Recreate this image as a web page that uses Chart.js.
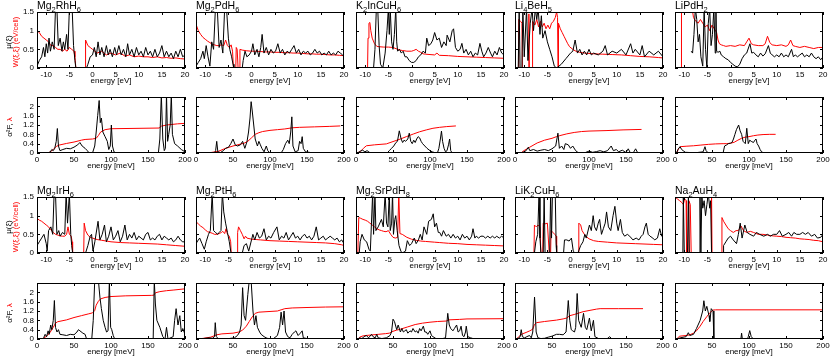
<!DOCTYPE html>
<html>
<head>
<meta charset="utf-8">
<script src="https://cdn.jsdelivr.net/npm/chart.js@4.4.0/dist/chart.umd.min.js"></script>
<style>
  body { margin: 0; background: #fff; }
  #fig { position: relative; width: 830px; height: 360px; overflow: hidden; }
  #fig canvas { position: absolute; }
</style>
</head>
<body>
<div id="fig"></div>
<script>
// compounds, top block uses the first five, bottom block the last five
const compounds = ['Mg2RhH6', 'Mg2PdH6', 'K2InCuH6', 'Li4BeH5', 'LiPdH2',
                   'Mg2IrH6', 'Mg2PtH6', 'Mg2SrPdH8', 'LiK2CuH6', 'Na2AuH4'];

// tick labels
const dosTicksX = [-10, -5, 0, 5, 10, 15, 20];
const dosTicksY = [0, 0.5, 1, 1.5];
const a2fTicksX = [0, 50, 100, 150, 200];
const a2fTicksY = [0, 0.4, 0.8, 1.2, 1.6, 2];
const dosXTitle = 'energy [eV]';
const a2fXTitle = 'energy [meV]';

// ---- Mg2RhH6 ----  [energy, value]
const rhMu = [[-12,0.05],[-11.5,0.2],[-11,0.3],[-10.6,0.55],[-10.3,0.3],[-10,0.65],[-9.7,0.4],[-9.4,0.8],[-9.1,0.45],[-8.7,0.7],[-8.3,0.5],[-8,1.6],[-7.7,1.6],[-7.4,0.6],[-7,0.8],[-6.6,0.45],[-6.3,0.7],[-6,0.5],[-5.6,0.9],[-5.3,0.5],[-5,1.6],[-4.7,1.6],[-4.4,1.6],[-4.1,0.6],[-3.8,0.2],[-3.6,0],[-1.3,0],[-1,0.1],[-0.5,0.3],[0,0.35],[0.4,0.55],[0.8,0.3],[1.2,0.7],[1.6,0.35],[2,0.55],[2.5,0.3],[3,0.6],[3.4,0.35],[3.8,0.5],[4.3,0.3],[4.8,0.55],[5.2,0.35],[5.7,0.6],[6.2,0.35],[6.7,0.5],[7.2,0.3],[7.6,0.65],[8,0.35],[8.5,0.5],[9,0.3],[9.5,0.55],[10,0.35],[10.5,0.45],[11,0.3],[11.5,0.55],[12,0.35],[12.5,0.45],[13,0.3],[13.5,0.5],[14,0.3],[14.5,0.4],[15,0.6],[15.5,0.3],[16,0.45],[16.5,0.3],[17,0.4],[17.5,0.25],[18,0.45],[18.5,0.3],[19,0.5],[19.5,0.3],[20,0.35]];
const rhW = [[-12,1.0],[-11.5,0.95],[-11,0.85],[-10.5,0.8],[-10,0.75],[-9.5,0.7],[-9,0.6],[-8.5,0.6],[-8,0.55],[-7.5,0.5],[-7,0.5],[-6.5,0.45],[-6,0.5],[-5.5,0.45],[-5,0.55],[-4.5,0.5],[-4,0.45],[-3.8,0.3],[-3.6,0],[-1.6,0],[-1.5,0.75],[-1,0.6],[-0.5,0.55],[0,0.5],[0.5,0.45],[1,0.4],[2,0.45],[3,0.35],[4,0.4],[5,0.35],[6,0.4],[7,0.32],[8,0.35],[9,0.3],[10,0.32],[11,0.3],[12,0.3],[13,0.28],[14,0.3],[15,0.27],[16,0.28],[17,0.26],[18,0.27],[19,0.25],[20,0.24]];
const rhA2F = [[0,0],[15,0],[18,0.05],[20,0.15],[22,0.1],[24,0.2],[26,0.5],[27.5,1.05],[29,0.3],[31,0.1],[35,0.15],[40,0.2],[45,0.18],[50,0.25],[55,0.35],[58,0.45],[61,0.3],[65,0.2],[68,0.1],[70,0.02],[75,0],[78,0.3],[80,0.9],[82,1.6],[84,2.25],[85.5,1.3],[87,1.5],[89,0.9],[92,0.7],[95,0.5],[97,0.15],[99,0.3],[100.5,1.2],[102,0.3],[104,0.05],[107,0],[164,0],[166,0.6],[168,2.5],[170,0.6],[172,0.1],[173.5,0.2],[175,2.5],[176.5,0.5],[178,0.8],[180,1.2],[181.5,2.5],[183,0.8],[186,0.4],[190,0.3],[195,0.15],[200,0.05]];
const rhLam = [[0,0],[15,0],[18,0.05],[22,0.15],[26,0.28],[30,0.34],[40,0.41],[50,0.47],[60,0.55],[65,0.58],[75,0.6],[80,0.63],[83,0.75],[86,0.9],[92,1.0],[100,1.04],[165,1.07],[168,1.15],[175,1.2],[190,1.25],[200,1.27]];

// ---- Mg2PdH6 ----
const pdMu = [[-12,0.05],[-11.5,0.15],[-11,0.25],[-10.5,0.45],[-10.2,0.25],[-9.8,0.6],[-9.4,0.3],[-9,0.05],[-8.6,0.7],[-8.2,0.5],[-7.8,1.6],[-7.4,1.6],[-7,0.55],[-6.6,0.75],[-6.2,0.4],[-5.8,1.6],[-5.4,1.6],[-5,0.8],[-4.7,0.5],[-4.3,0.3],[-4,0.1],[-3.8,0],[-2,0],[-1.8,0.2],[-1.4,0.45],[-1,0.3],[-0.5,0.35],[0,0.45],[0.3,0.65],[0.7,0.35],[1.2,0.5],[1.6,0.3],[2,0.55],[2.3,0.9],[2.7,0.4],[3.2,0.55],[3.7,0.35],[4.2,0.5],[4.7,0.4],[5.2,0.45],[5.7,0.65],[6.2,0.4],[6.7,0.5],[7.2,0.35],[7.7,0.45],[8.2,0.4],[8.7,0.5],[9.2,0.6],[9.7,0.4],[10.2,0.5],[10.7,0.35],[11.2,0.45],[11.7,0.4],[12.2,0.45],[12.7,0.35],[13.2,0.4],[13.7,0.5],[14.2,0.4],[14.7,0.45],[15.2,0.35],[15.7,0.4],[16.2,0.35],[16.7,0.45],[17.2,0.35],[17.7,0.4],[18.2,0.35],[18.7,0.45],[19.2,0.4],[19.7,0.35],[20,0.3]];
const pdW = [[-12,1.17],[-11.5,1.0],[-11,0.9],[-10.5,0.82],[-10,0.77],[-9.5,0.72],[-9,0.68],[-8.5,0.64],[-8,0.62],[-7.5,0.6],[-7,0.6],[-6.5,0.62],[-6,0.6],[-5.6,0.75],[-5.2,0.6],[-4.8,0.55],[-4.4,0.62],[-4.1,0.45],[-3.9,0],[-3.4,0],[-3.3,0.55],[-3.1,0.5],[-2.9,0],[-2.6,0],[-2.5,0.5],[-2,0.48],[-1,0.46],[0,0.45],[1,0.45],[2,0.44],[3,0.43],[4,0.43],[5,0.42],[6,0.42],[7,0.41],[8,0.41],[9,0.4],[10,0.4],[11,0.39],[12,0.38],[13,0.38],[14,0.37],[15,0.37],[16,0.36],[17,0.35],[18,0.35],[19,0.34],[20,0.33]];
const pdA2F = [[0,0],[25,0],[26.5,0.1],[28,0.5],[29.5,0.05],[33,0.02],[37,0.1],[40,0.2],[44,0.25],[47,0.4],[50,0.6],[53,0.35],[56,0.3],[60,0.35],[63,0.5],[66,0.2],[69,0.5],[71,0.9],[73,1.5],[74.5,2.2],[76,1.8],[78,1.2],[80,0.6],[83,0.3],[85,0.5],[87,0.35],[89,0.2],[92,0.05],[95,0.3],[97,0.1],[100,0],[115,0],[118,0.15],[121,0.4],[124,0.55],[126,0.4],[128,0.9],[129.5,1.55],[131,0.3],[134,0.05],[138,0.1],[140,0.5],[142,0.4],[143.5,0.7],[145,0.2],[148,0.05],[155,0.02],[160,0]];
const pdLam = [[0,0],[20,0.02],[30,0.07],[40,0.2],[50,0.3],[60,0.38],[65,0.42],[70,0.5],[75,0.65],[80,0.8],[85,0.87],[90,0.92],[100,0.97],[110,1.0],[120,1.03],[130,1.08],[140,1.1],[160,1.12],[180,1.14],[195,1.16]];

// ---- K2InCuH6 ----
const kinMu = [[-12,0],[-8.2,0],[-7.9,0.5],[-7.6,1.6],[-7.3,1.6],[-7,0.6],[-6.7,0.1],[-6.2,0],[-5.7,0.4],[-5.3,1.0],[-5.0,1.6],[-4.8,0.9],[-4.6,1.6],[-4.3,0.7],[-4,0.5],[-3.7,0.9],[-3.4,1.6],[-3.2,0.7],[-3,0.45],[-2.6,0.5],[-2.2,0.4],[-1.8,0.45],[-1.4,0.3],[-1,0.3],[-0.5,0.2],[0,0.15],[0.5,0.15],[1,0.2],[1.5,0.3],[2,0.35],[2.5,0.45],[3,0.4],[3.3,0.8],[3.7,0.6],[4.2,0.65],[4.6,0.75],[5,0.95],[5.5,0.75],[6,0.8],[6.5,0.55],[7,0.7],[7.5,0.6],[7.7,0.88],[8.3,0.7],[8.8,1.0],[9.1,1.05],[9.5,0.55],[10,0.45],[10.5,0.5],[10.9,0.66],[11.3,0.4],[11.8,0.5],[12.3,0.35],[12.8,0.45],[13.3,0.3],[13.8,0.4],[14.3,0.35],[14.8,0.66],[15.2,0.45],[15.6,0.3],[16.1,0.4],[16.6,0.55],[17.1,0.4],[17.5,0.3],[18,0.45],[18.5,0.35],[19,0.55],[19.5,0.4],[20,0.35]];
const kinW = [[-12,0],[-9.5,0],[-9.4,0.8],[-9.2,1.2],[-9,1.22],[-8.8,1.0],[-8.5,0.8],[-8,0.65],[-7.5,0.58],[-7,0.57],[-6,0.56],[-5,0.56],[-4,0.55],[-3,0.5],[-2.5,0.48],[-2,0.47],[-1,0.45],[0,0.45],[0.5,0.47],[1,0.5],[1.5,0.45],[2,0.42],[2.5,0.38],[3,0.37],[4,0.36],[5,0.35],[5.5,0.4],[6,0.34],[8,0.33],[10,0.31],[12,0.3],[14,0.29],[16,0.28],[18,0.27],[20,0.26]];
const kinA2F = [[0,0],[3,0.02],[6,0.08],[9,0.12],[12,0.05],[15,0.1],[18,0.03],[22,0],[42,0],[45,0.1],[48,0.2],[51,0.3],[54,0.45],[56,0.5],[58.5,0.95],[61,0.6],[63,0.45],[65,0.55],[67,0.5],[70,0.6],[72,0.85],[74,0.5],[76,0.4],[78,0.55],[80,0.45],[82,0.6],[84,0.7],[86,0.65],[88,0.5],[90,0.4],[93,0.3],[96,0.2],[100,0.1],[103,0.05],[106,0.02],[110,0],[112,0.2],[114,0.6],[115.5,0.94],[117,0.5],[119,0.2],[121,0.05],[123,0.1],[125,0.35],[126.5,0.6],[128,0.1],[130,0]];
const kinLam = [[0,0],[5.4,0.05],[10,0.2],[14,0.31],[25,0.35],[41,0.39],[50,0.49],[60,0.6],[68,0.7],[78,0.82],[86,0.91],[95,0.99],[104,1.06],[113,1.1],[122,1.13],[135,1.16]];

// ---- Li4BeH5 ----
const li4Mu = [[-12,0],[-11.3,0],[-11.1,1.6],[-10.9,0],[-10.5,0],[-10.3,1.6],[-10,0.3],[-9.5,1.6],[-9.2,0.2],[-8.7,1.2],[-8.3,1.6],[-8,1.0],[-7.6,1.6],[-7.3,1.3],[-7,1.6],[-6.6,0.9],[-6.3,1.4],[-6,0.8],[-5.5,1.0],[-5,0.7],[-4.5,0.5],[-4,0.3],[-3.5,0.05],[-3,0],[-2,0.1],[-1,0.25],[0,0.4],[0.5,0.45],[1,0.75],[1.5,0.4],[2,0.5],[2.5,0.35],[3,0.45],[3.5,0.35],[4,0.5],[4.5,0.35],[5,0.4],[6,0.35],[7,0.45],[7.5,0.6],[8,0.35],[9,0.45],[10,0.4],[11,0.5],[12,0.35],[13,0.65],[13.5,0.4],[14,0.5],[15,0.35],[15.5,0.6],[16,0.3],[17,0.45],[18,0.35],[19,0.45],[20,0.3]];
const li4W = [[-12,0],[-11.3,0],[-11.2,1.3],[-10.8,1.25],[-10.5,1.2],[-10.4,0],[-9.1,0],[-9,1.45],[-8.9,0],[-8.3,0],[-8.2,1.25],[-7.7,1.15],[-7.3,1.3],[-6.9,1.1],[-6.5,1.25],[-6.1,1.1],[-5.7,1.2],[-5.3,1.05],[-4.9,1.15],[-4.5,1.05],[-4.1,1.2],[-3.7,1.25],[-3.3,1.35],[-3,1.5],[-2.8,1.35],[-2.7,0],[-2.6,1.2],[-2.2,1.05],[-1.8,0.95],[-1.4,0.85],[-1,0.75],[-0.6,0.65],[-0.2,0.57],[0.5,0.5],[1,0.46],[2,0.42],[3,0.4],[5,0.38],[7,0.37],[9,0.36],[11,0.35],[13,0.33],[15,0.31],[17,0.3],[19,0.28],[20,0.27]];
const li4A2F = [[8,0],[12,0.05],[15,0.1],[18,0.25],[20,0.1],[25,0.15],[30,0.08],[35,0.12],[40,0.15],[45,0.1],[50,0.18],[55,0.3],[58,0.85],[60,0.2],[63,0.3],[66,0.15],[68,0.4],[72,0.35],[75,0.2],[78,0.3],[82,0.1],[86,0],[95,0.02],[100,0.08],[105,0.03],[110,0.06],[115,0.1],[120,0.05],[125,0.1],[130,0.3],[133,0.1],[137,0.15],[140,0.05],[145,0.12],[150,0.02],[153,0.18],[156,0],[160,0.02],[163,0.18],[166,0]];
const li4Lam = [[8,0],[12,0.1],[20,0.25],[30,0.43],[40,0.55],[50,0.63],[56,0.7],[60,0.74],[70,0.82],[80,0.88],[90,0.92],[100,0.94],[123,0.96],[146,0.99],[171,1.01]];

// ---- LiPdH2 ----
const lipdMu = [[-8.5,0.45],[-8.2,0.4],[-7.9,0.9],[-7.6,1.6],[-7.3,1.3],[-7,0.7],[-6.7,0.9],[-6.4,0.3],[-6,0.05],[-5.7,1.6],[-5.4,0.5],[-5.1,0],[-4.8,1.2],[-4.5,1.6],[-4.2,0.6],[-3.9,0.9],[-3.6,1.6],[-3.3,0.4],[-3.15,1.6],[-3.0,0.45],[-2.7,0.42],[-2.3,0.45],[-2,0.35],[-1.5,0.3],[-1,0.25],[-0.5,0.22],[0,0.15],[0.5,0.1],[1,0.05],[1.5,0.03],[2,0.1],[2.5,0.25],[3,0.35],[3.5,0.4],[4.2,0.65],[4.6,0.4],[5,0.42],[5.5,0.35],[6,0.3],[6.5,0.4],[7,0.32],[7.5,0.38],[8.2,0.6],[8.6,0.4],[9,0.35],[9.5,0.3],[10,0.35],[10.5,0.3],[11,0.4],[11.5,0.3],[12,0.35],[12.5,0.3],[13.2,0.5],[13.6,0.3],[14,0.35],[14.5,0.3],[15,0.35],[15.5,0.4],[16,0.3],[16.5,0.35],[17,0.3],[17.5,0.4],[18,0.3],[18.5,0.25],[19,0.3],[19.5,0.22],[20,0.3]];
const lipdW = [[-12,0],[-10.7,0],[-10.6,1.6],[-8.3,1.6],[-8,1.35],[-7.5,1.25],[-7,1.2],[-6.5,1.3],[-6,1.2],[-5.5,1.1],[-5,1.15],[-4.5,1.0],[-4,1.15],[-3.5,1.05],[-3,0.95],[-2.7,0.75],[-2.4,0.65],[-2,0.62],[-1.5,0.6],[-1,0.58],[0,0.6],[1,0.58],[2,0.62],[3,0.6],[3.5,0.7],[4,0.8],[4.5,0.65],[5,0.62],[6,0.6],[7,0.6],[7.5,0.65],[8,0.85],[8.5,0.68],[9,0.62],[10,0.6],[11,0.62],[12,0.58],[12.5,0.62],[13,0.75],[13.5,0.6],[14,0.58],[15,0.55],[16,0.58],[17,0.55],[18,0.52],[19,0.55],[20,0.55]];
const lipdA2F = [[0,0],[2,0],[4,0.15],[6.8,0.27],[9,0.15],[11,0.1],[14,0.03],[20,0.02],[30,0.02],[38,0.05],[40.5,0.27],[42,0.1],[45,0],[65,0],[67,0.3],[70,0.35],[72,0.4],[75,0.42],[77,0.45],[79,0.6],[81,0.8],[83,1.0],[86,1.2],[88,0.95],[90,0.8],[92,0.5],[95,0.4],[97,1.06],[99,0.4],[101,0.55],[103,0.5],[106,0.45],[108,0.55],[109.5,0.6],[111,0.4],[113,0.3],[115,0.15],[117,0.05],[120,0]];
const lipdLam = [[0,0],[2.3,0],[5,0.2],[7,0.27],[15,0.29],[25,0.31],[35,0.34],[45,0.37],[55,0.39],[65,0.4],[70,0.4],[75,0.42],[80,0.46],[85,0.55],[90,0.63],[95,0.68],[100,0.7],[106,0.74],[112,0.77],[119,0.79],[128,0.8],[136,0.8]];

// ---- Mg2IrH6 ----
const irMu = [[-12,0.2],[-11.5,0.3],[-11,0.4],[-10.5,0.5],[-10,0.25],[-9.8,0.05],[-9.5,0.6],[-9,0.7],[-8.6,0.5],[-8.3,1.6],[-8,1.6],[-7.7,0.5],[-7.3,0.6],[-7,0.45],[-6.5,0.55],[-6,0.5],[-5.7,1.6],[-5.4,0.8],[-5,1.6],[-4.7,0.5],[-4.5,0.2],[-4.3,0],[-1.5,0],[-1,0.2],[-0.5,0.45],[-0.2,0.5],[0.1,0.05],[0.5,0.3],[1.2,0.85],[1.6,0.35],[2.1,0.5],[2.6,0.75],[3,0.3],[3.5,0.45],[4,0.7],[4.5,0.35],[5,0.45],[5.5,0.6],[6,0.3],[6.5,0.45],[7,0.75],[7.5,0.35],[8,0.5],[8.5,0.4],[9,0.55],[9.5,0.35],[10,0.45],[10.5,0.4],[11,0.35],[11.5,0.5],[12,0.55],[12.5,0.35],[13,0.4],[13.5,0.35],[14,0.45],[14.5,0.5],[15,0.35],[15.5,0.45],[16,0.4],[16.5,0.35],[17,0.4],[17.5,0.3],[18,0.35],[18.5,0.45],[19,0.35],[19.5,0.3],[20,0.3]];
const irW = [[-12,0.93],[-11.5,0.88],[-11,0.85],[-10.5,0.8],[-10,0.75],[-9.5,0.7],[-9,0.62],[-8.5,0.55],[-8,0.5],[-7.5,0.48],[-7,0.46],[-6.5,0.45],[-6,0.45],[-5.6,0.5],[-5.3,0.7],[-5,0.5],[-4.6,0.45],[-4.4,0.3],[-4.3,0],[-1.9,0],[-1.8,0.8],[-1.5,0.6],[-1,0.48],[-0.5,0.42],[0,0.4],[1,0.36],[2,0.34],[3,0.32],[4,0.3],[6,0.28],[8,0.27],[10,0.26],[12,0.25],[14,0.24],[16,0.22],[18,0.2],[20,0.18]];
const irA2F = [[0,0],[8,0],[9,0.05],[11,0.2],[13,0.1],[15,0.35],[16.5,0.2],[18.5,0.6],[20,0.4],[22,0.8],[23.5,1.65],[25,0.5],[27,0.3],[29,0.4],[31,0.2],[35,0.18],[40,0.15],[45,0.2],[50,0.18],[54,0.3],[56,0.4],[58,0.35],[62,0.25],[65,0.2],[67,0],[74,0],[76,0.8],[78,2.5],[83,2.5],[85,1.8],[87,1.3],[89.5,0.8],[92,0.5],[94,0.3],[96,0.35],[97.8,2.5],[99.5,0.5],[101,0.4],[103,0.15],[105,0],[157,0],[158.5,2.5],[160,1.5],[162,0.8],[166,0.5],[170,0.1],[173,0],[175,0.5],[177,0],[184,0.1],[186,0.8],[188,1.3],[190.5,0.6],[193,1.0],[195,0.3],[197,0.45],[200,0.2]];
const irLam = [[0,0],[5,0],[9,0.03],[14,0.15],[18,0.3],[22,0.5],[25,0.68],[28,0.74],[40,0.82],[50,0.92],[60,1.0],[70,1.08],[75,1.12],[78,1.22],[80,1.45],[83,1.62],[86,1.72],[92,1.78],[100,1.82],[120,1.85],[155,1.87],[158,1.88],[160,1.98],[166,2.03],[175,2.07],[185,2.1],[200,2.15]];

// ---- Mg2PtH6 ----
const ptMu = [[-12,0.25],[-11.5,0.35],[-11.2,0.4],[-10.7,0.25],[-10.2,0.1],[-9.8,0.3],[-9.3,0.5],[-8.9,0.6],[-8.5,1.6],[-8.2,0.6],[-7.8,0.55],[-7.3,0.5],[-7,0.55],[-6.6,0.6],[-6.3,1.6],[-6,1.1],[-5.6,0.8],[-5.2,0.55],[-4.8,0.3],[-4.5,0.05],[-4.4,0],[-2,0],[-1.6,0.2],[-1.1,0.25],[-0.6,0.05],[0,0.35],[0.3,0.5],[0.7,0.35],[1.2,0.55],[1.7,0.4],[2.2,0.45],[2.7,0.65],[3.2,0.35],[3.7,0.45],[4.2,0.4],[4.8,0.55],[5.5,0.7],[6,0.35],[6.5,0.45],[7,0.4],[7.5,0.55],[8,0.35],[8.5,0.45],[9,0.55],[9.5,0.4],[10,0.45],[10.5,0.35],[11,0.45],[11.5,0.5],[12,0.4],[12.5,0.45],[13,0.35],[13.5,0.45],[14,0.7],[14.5,0.35],[15,0.4],[15.5,0.45],[16,0.35],[16.5,0.4],[17,0.45],[17.5,0.4],[18,0.35],[18.5,0.4],[19,0.3],[19.5,0.35],[20,0.25]];
const ptW = [[-12,0.84],[-11.5,0.78],[-11,0.72],[-10.5,0.68],[-10,0.62],[-9.5,0.57],[-9,0.55],[-8.5,0.53],[-8,0.5],[-7.5,0.5],[-7,0.52],[-6.5,0.55],[-6.2,0.58],[-5.8,0.52],[-5.5,0.65],[-5.2,0.5],[-4.8,0.45],[-4.5,0.3],[-4.4,0],[-3.1,0],[-3,0.55],[-2.8,0.7],[-2.4,0.6],[-2,0.5],[-1.6,0.38],[-1.3,0.45],[-1,0.4],[0,0.37],[1,0.36],[2,0.35],[4,0.33],[6,0.32],[8,0.31],[10,0.3],[12,0.29],[14,0.28],[16,0.27],[18,0.25],[19.5,0.22],[20,0.2]];
const ptA2F = [[0,0],[8,0],[10,0.02],[18,0.05],[22,0.03],[25,0.1],[26,0.7],[27.5,0.1],[30,0.02],[40,0],[52,0.05],[56,0.15],[59,0.3],[61,0.6],[63,2.2],[65,1.0],[67,0.8],[70,1.9],[72,2.5],[74.5,2.5],[77,1.2],[79,0.6],[81,1.0],[83,0.5],[86,0.3],[88,0.2],[92,0.1],[96,0.03],[104,0],[110,0.15],[113,0.5],[115,1.15],[117,0.6],[119,1.2],[121,0.3],[124,0.1],[127,0.05],[130,0.2],[133,0.3],[135,0.35],[138,0.15],[141,0.25],[143.5,0.35],[145,0.05],[150,0.02],[156,0.02],[160,0]];
const ptLam = [[4,0],[10,0.03],[20,0.08],[28,0.18],[35,0.22],[50,0.25],[58,0.3],[63,0.38],[68,0.55],[72,0.75],[76,0.95],[80,1.1],[85,1.15],[100,1.18],[110,1.2],[115,1.25],[120,1.3],[130,1.33],[150,1.35],[175,1.37],[200,1.38]];

// ---- Mg2SrPdH8 ----
const srMu = [[-12,0],[-11.3,0],[-11.1,0.3],[-10.7,0.5],[-10.2,0.35],[-9.7,0.3],[-9.2,0.1],[-8.9,0.05],[-8.4,1.6],[-8.2,0.5],[-7.9,1.6],[-7.7,0.6],[-7.2,0.7],[-6.5,0.9],[-6.1,0.7],[-5.7,1.6],[-5.4,0.8],[-5.1,0.7],[-4.8,1.6],[-4.6,0.6],[-4.3,0.8],[-4.1,1.6],[-3.9,0.5],[-3.6,0.9],[-3.4,1.0],[-3.1,0.6],[-2.7,0.2],[-2.3,0.05],[-2,0],[-1.3,0.05],[-0.9,0.33],[-0.4,0.2],[0,0.25],[0.6,0.4],[1,0.25],[1.5,0.35],[1.9,0.5],[2.3,0.35],[2.7,0.7],[3.3,0.5],[3.7,0.85],[4.3,0.9],[4.7,1.05],[5,0.7],[5.4,0.8],[5.8,0.55],[6.1,0.55],[6.5,0.45],[6.9,0.6],[7.5,0.45],[8,0.5],[8.5,0.4],[9,0.5],[9.5,0.4],[10,0.45],[10.5,0.35],[11,0.5],[11.5,0.4],[12,0.45],[12.5,0.35],[13,0.45],[13.3,0.65],[13.7,0.4],[14,0.45],[14.5,0.4],[15,0.45],[15.5,0.45],[16,0.4],[16.5,0.45],[17,0.4],[17.5,0.45],[18,0.4],[18.4,0.45],[19,0.4],[19.5,0.45],[20,0.4]];
const srW = [[-12,0],[-11.6,0],[-11.4,0.95],[-11,0.93],[-10.5,0.9],[-10,0.88],[-9.5,0.85],[-9,0.8],[-8.5,0.75],[-8,0.7],[-7.5,0.65],[-7,0.62],[-6.5,0.6],[-6,0.58],[-5.5,0.57],[-5,0.6],[-4.5,0.5],[-4,0.42],[-3.5,0.4],[-3,0.42],[-2.75,1.6],[-2.5,0.52],[-2,0.5],[-1,0.42],[0,0.37],[1,0.34],[2,0.32],[3,0.31],[4,0.3],[5,0.29],[6,0.28],[7,0.27],[8,0.26],[10,0.25],[12,0.23],[14,0.22],[16,0.21],[18,0.2],[20,0.19]];
const srA2F = [[0,0],[3,0],[5,0.05],[8,0.02],[11,0.1],[14,0.15],[17,0.05],[21,0.2],[23,0.1],[26,0.05],[28,0.2],[30,0.05],[35,0.02],[41,0.05],[46,0.15],[48,0.3],[50,0.85],[52,0.75],[55,0.4],[57,0.6],[60,0.3],[62,0.45],[64,0.3],[66,0.35],[68,0.4],[70,0.25],[73,0.35],[75,0.3],[77,0.45],[80,0.3],[82,0.35],[84,0.25],[86,0.45],[88,0.35],[91,0.55],[93,0.3],[95,0.3],[97,0.2],[100,0.35],[102,0.15],[104,0.1],[108,0.02],[115,0],[121,0.05],[124,1.1],[126,0.6],[128,0.45],[131,0.35],[133,0.45],[136,0.6],[138,0.3],[140,0.35],[142,0.55],[144,0.15],[146,0.1],[148,0.3],[149,0.55],[151,0.1],[155,0.05],[158,0.02],[165,0]];
const srLam = [[0,0],[3,0],[5,0.08],[10,0.14],[20,0.17],[30,0.2],[40,0.23],[45,0.25],[50,0.33],[55,0.38],[60,0.42],[70,0.52],[80,0.62],[90,0.68],[100,0.72],[110,0.75],[122,0.77],[125,0.82],[140,0.84],[150,0.86],[200,0.87]];

// ---- LiK2CuH6 ----
const likMu = [[-12,0],[-7.8,0],[-7.5,0.3],[-7.1,0.5],[-6.8,1.6],[-6.6,0.4],[-6.4,0],[-5.9,0],[-5.7,1.6],[-5.5,0],[-4.5,0],[-4.3,1.6],[-4.1,0.4],[-3.9,1.6],[-3.6,1.6],[-3.3,1.6],[-3.1,0.2],[-3,0],[-1.5,0],[-1.3,0.35],[-0.8,0.35],[-0.3,0.32],[0.2,0.4],[0.6,0.05],[1,0],[1.6,0],[2.2,0.2],[2.7,0.3],[3.1,0.5],[3.4,0.4],[4.1,0.75],[4.5,0.6],[4.9,1.0],[5.2,0.7],[5.6,0.6],[6,0.8],[6.3,0.9],[6.7,0.5],[7.1,0.65],[7.5,0.8],[7.8,1.1],[8.2,0.7],[8.7,0.6],[9.2,1.0],[9.6,1.25],[10,0.8],[10.3,0.6],[10.8,0.9],[11.2,0.55],[11.7,0.45],[12.3,0.5],[12.8,0.45],[13.5,0.35],[14.2,0.4],[14.8,0.35],[15.3,0.45],[15.7,0.5],[16.1,0.7],[16.4,0.8],[16.8,0.5],[17.2,0.45],[17.8,0.4],[18.2,0.35],[18.8,0.4],[19.3,0.65],[19.7,0.45],[20,0.5]];
const likW = [[-12,0],[-7.9,0],[-7.8,0.75],[-7.4,0.7],[-7,0.75],[-6.6,0.7],[-6.4,0],[-6,0],[-5.9,0.8],[-5.5,0.78],[-5,0.8],[-4.6,0],[-4.3,0],[-4.2,0.6],[-3.8,0.55],[-3.4,0.5],[-3.1,0.45],[-3,0],[1.7,0],[1.8,0.8],[2.2,0.75],[2.5,0.6],[3,0.5],[3.5,0.43],[4,0.38],[5,0.33],[6,0.31],[8,0.29],[10,0.27],[14,0.25],[18,0.23],[20,0.22]];
const likA2F = [[0,0],[4,0.02],[7,0.1],[8.4,0.4],[10,0.1],[13,0.05],[16,0.1],[19.6,0.15],[22,0.05],[24,0.3],[26.4,1.8],[28.6,0.3],[31,0.05],[35,0.02],[40,0.03],[45,0.08],[50,0.12],[56,0.2],[60,0.2],[65,0.18],[69,0.3],[72,1.65],[74,0.8],[76,0.4],[78,0.35],[80.4,0.3],[82,0.5],[84,1.95],[86,0.8],[89.5,0.5],[92.6,1.1],[95,0.5],[97,0.4],[100.6,0.9],[103,0.35],[106,0.8],[108,0.1],[114,0],[124,0],[128,0.1],[131,0],[140,0]];
const likLam = [[0,0],[2,0],[5,0.1],[10,0.22],[15,0.28],[20,0.35],[24,0.42],[26,0.6],[29,0.7],[40,0.75],[56,0.81],[65,0.86],[70,0.9],[74,1.0],[80,1.05],[92,1.17],[100,1.22],[110,1.28],[115,1.3],[140,1.3],[173,1.3]];

// ---- Na2AuH4 ----
const naMu = [[-12,0],[-10.3,0],[-10.2,1.6],[-10,0],[-9.3,0],[-9.1,1.6],[-8.9,0],[-6.8,0],[-6.6,1.6],[-6.4,0],[-6.2,1.6],[-6,1.2],[-5.7,1.4],[-5.4,1.0],[-5.1,1.3],[-4.8,1.6],[-4.5,1.2],[-4.3,1.4],[-4.1,0],[-1.6,0],[-1.5,0.2],[-1,0.3],[-0.5,0.4],[0,0.45],[0.6,0.35],[1.3,0.25],[1.7,0.5],[2.1,0.8],[2.5,0.4],[3.1,0.75],[3.6,0.55],[4.2,0.5],[5,0.45],[5.6,0.55],[6.3,0.5],[7.2,0.45],[8,0.5],[8.6,0.45],[9.3,0.5],[10,0.5],[10.6,0.6],[11.2,0.45],[12,0.5],[12.6,0.55],[13.2,0.45],[13.7,0.55],[14.3,0.5],[15,0.5],[15.6,0.55],[16.2,0.5],[16.8,0.55],[17.5,0.45],[18.2,0.5],[18.8,0.4],[19.5,0.42],[20,0.5]];
const naW = [[-12,1.5],[-11.5,1.45],[-11,1.4],[-10.5,1.35],[-10.2,1.3],[-9.9,1.45],[-9.6,1.4],[-9.5,0],[-9.1,0],[-9,1.4],[-8.7,1.3],[-8.5,0],[-4.2,0],[-4.1,1.6],[-4,0],[-1.9,0],[-1.85,0.95],[-1.5,0.85],[-1,0.75],[-0.5,0.65],[0,0.6],[0.6,0.55],[1.2,0.6],[1.7,0.6],[2.3,0.72],[2.8,0.6],[3.5,0.55],[4.3,0.58],[5,0.55],[6,0.5],[7,0.5],[8,0.48],[9,0.46],[10,0.45],[11,0.44],[12,0.42],[13,0.41],[14,0.4],[15,0.38],[16,0.37],[17,0.36],[18,0.34],[19,0.33],[20,0.3]];
const naA2F = [[0,0],[2.3,0],[7,0.05],[15,0.1],[18,0.27],[20,0.15],[25,0.2],[29,0.45],[34,0.8],[37.4,1.2],[39,1.64],[41,1.2],[43,1.4],[46,1.0],[47,0.75],[49,1.3],[51.4,1.2],[52.5,0],[89,0],[90,0.25],[91,0],[98,0],[99,0.1],[101,0.36],[103,0.1],[106,0],[200,0]];
const naLam = [[0,0],[2.3,0],[6,0.12],[15,0.15],[20,0.18],[25,0.25],[29,0.35],[34,0.55],[38,0.75],[42.8,0.95],[47,1.12],[51.4,1.24],[55,1.25],[200,1.25]];

// black = mu / a2F, red = W / lambda
const dosBlack = [rhMu, pdMu, kinMu, li4Mu, lipdMu, irMu, ptMu, srMu, likMu, naMu];
const dosRed   = [rhW, pdW, kinW, li4W, lipdW, irW, ptW, srW, likW, naW];
const a2fBlack = [rhA2F, pdA2F, kinA2F, li4A2F, lipdA2F, irA2F, ptA2F, srA2F, likA2F, naA2F];
const a2fRed   = [rhLam, pdLam, kinLam, li4Lam, lipdLam, irLam, ptLam, srLam, likLam, naLam];

// layout
const colLeft = [37, 196, 356, 515, 675];
const rowTop = [12, 97, 197, 283];
const plotW = 148, plotH = 56;
const padL = 36, padT = 12, padR = 12, axisH = 18;
const fam = "'Liberation Sans', Arial, Helvetica, sans-serif";

Chart.defaults.color = '#000';
Chart.defaults.font.family = fam;

// frame with inward ticks, panel title and y labels
const panelDeco = {
  id: 'panelDeco',
  afterDraw(chart, args, opts) {
    const ctx = chart.ctx;
    const a = chart.chartArea;
    const xs = chart.scales.x, ys = chart.scales.y;
    ctx.save();
    ctx.strokeStyle = '#000';
    ctx.lineWidth = 1;
    ctx.beginPath();
    xs.ticks.forEach(t => {
      const px = Math.round(xs.getPixelForValue(t.value)) + 0.5;
      ctx.moveTo(px, a.bottom); ctx.lineTo(px, a.bottom - 3);
      ctx.moveTo(px, a.top); ctx.lineTo(px, a.top + 3);
    });
    ys.ticks.forEach(t => {
      const py = Math.round(ys.getPixelForValue(t.value)) + 0.5;
      ctx.moveTo(a.left, py); ctx.lineTo(a.left + 3, py);
      ctx.moveTo(a.right, py); ctx.lineTo(a.right - 3, py);
    });
    ctx.stroke();
    ctx.strokeRect(a.left + 0.5, a.top + 0.5, a.right - a.left - 1, a.bottom - a.top - 1);

    ctx.fillStyle = '#000';
    ctx.textBaseline = 'alphabetic';
    ctx.textAlign = 'left';
    if (opts.name) {
      let x = a.left;
      const base = a.top - 3;
      for (const ch of opts.name) {
        const sub = /[0-9]/.test(ch);
        ctx.font = (sub ? '7.5px ' : '10.5px ') + fam;
        ctx.fillText(ch, x, sub ? base + 2.5 : base);
        x += ctx.measureText(ch).width;
      }
    }

    if (opts.first) {
      const yc = (a.top + a.bottom) / 2 + 2;
      ctx.textAlign = 'center';
      ctx.textBaseline = 'middle';
      if (opts.kind === 'dos') {
        ctx.save();
        ctx.translate(8, yc); ctx.rotate(-Math.PI / 2);
        ctx.font = '8px ' + fam;
        ctx.fillStyle = '#000';
        ctx.fillText('\u03bc(\u03be)', 0, 0);
        ctx.restore();
        ctx.save();
        ctx.translate(15, yc); ctx.rotate(-Math.PI / 2);
        ctx.font = '7.5px ' + fam;
        ctx.fillStyle = '#ff0000';
        ctx.fillText('W(\u03be,\u03be) (eV/cell)', 0, 0);
        ctx.restore();
      } else {
        ctx.save();
        ctx.translate(9, yc); ctx.rotate(-Math.PI / 2);
        ctx.font = '8px ' + fam;
        const s1 = '\u03b1\u00b2F, ', s2 = '\u03bb';
        const w1 = ctx.measureText(s1).width, w2 = ctx.measureText(s2).width;
        ctx.textAlign = 'left';
        ctx.fillStyle = '#000';
        ctx.fillText(s1, -(w1 + w2) / 2, 0);
        ctx.fillStyle = '#ff0000';
        ctx.fillText(s2, -(w1 + w2) / 2 + w1, 0);
        ctx.restore();
      }
    }
    ctx.restore();
  }
};

const toXY = pts => pts.map(p => ({x: p[0], y: p[1]}));
const fig = document.getElementById('fig');

function makePanel(row, col, kind, name, black, red) {
  const dos = kind === 'dos';
  const cv = document.createElement('canvas');
  cv.width = padL + plotW + padR;
  cv.height = padT + plotH + axisH;
  cv.style.left = (colLeft[col] - padL) + 'px';
  cv.style.top = (rowTop[row] - padT) + 'px';
  fig.appendChild(cv);
  const tickFont = {size: 8, family: fam};
  // no gridlines, no outside tick marks; frame and inward ticks come from panelDeco
  const noGrid = {display: false, drawTicks: false, tickLength: 0};
  new Chart(cv, {
    type: 'line',
    data: {
      datasets: [
        {data: toXY(black), borderColor: '#000000', borderWidth: 1, pointRadius: 0, tension: 0, order: 0},
        {data: toXY(red), borderColor: '#ff0000', borderWidth: 1, pointRadius: 0, tension: 0, order: 1}
      ]
    },
    options: {
      responsive: false,
      animation: false,
      events: [],
      layout: {padding: {left: 0, right: padR, top: padT, bottom: 0}, autoPadding: false},
      plugins: {
        legend: {display: false},
        tooltip: {enabled: false},
        panelDeco: {name: name, kind: kind, first: col === 0}
      },
      scales: {
        x: {
          type: 'linear',
          min: dos ? -12 : 0,
          max: dos ? 20 : 200,
          afterBuildTicks: s => { s.ticks = (dos ? dosTicksX : a2fTicksX).map(v => ({value: v})); },
          afterFit: s => { s.height = axisH; },
          grid: noGrid,
          border: {display: false},
          ticks: {font: tickFont, color: '#000', padding: 2, maxRotation: 0, autoSkip: false, callback: v => String(v)},
          title: {display: true, text: dos ? dosXTitle : a2fXTitle, font: tickFont, color: '#000', padding: 0}
        },
        y: {
          type: 'linear',
          min: 0,
          max: dos ? 1.5 : 2.4,
          afterBuildTicks: s => { s.ticks = (dos ? dosTicksY : a2fTicksY).map(v => ({value: v})); },
          afterFit: s => { s.width = padL; },
          grid: noGrid,
          border: {display: false},
          ticks: {font: tickFont, color: '#000', padding: 3, autoSkip: false, callback: v => col === 0 ? String(v) : ''}
        }
      }
    },
    plugins: [panelDeco]
  });
}

for (let c = 0; c < 5; c++) {
  makePanel(0, c, 'dos', compounds[c], dosBlack[c], dosRed[c]);
  makePanel(1, c, 'a2f', null, a2fBlack[c], a2fRed[c]);
  makePanel(2, c, 'dos', compounds[c + 5], dosBlack[c + 5], dosRed[c + 5]);
  makePanel(3, c, 'a2f', null, a2fBlack[c + 5], a2fRed[c + 5]);
}
</script>
</body>
</html>
